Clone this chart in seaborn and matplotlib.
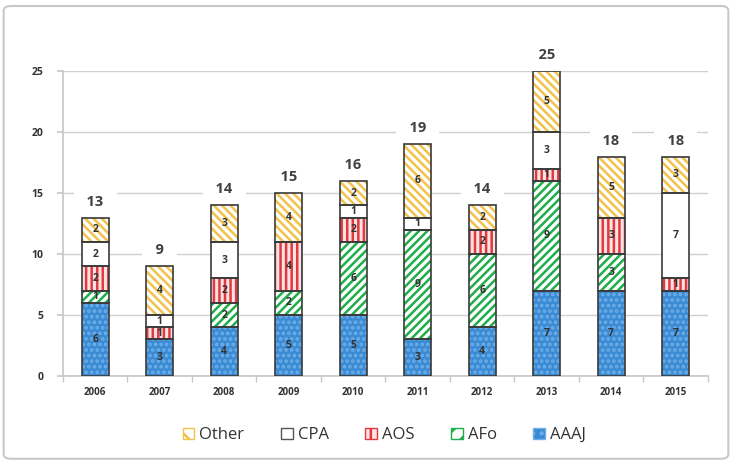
import numpy as np
import seaborn as sns
import matplotlib.pyplot as plt
from matplotlib.patches import Patch, FancyBboxPatch

# 数据
years = ['2006', '2007', '2008', '2009', '2010', '2011', '2012', '2013', '2014', '2015']
aaaj = [6, 3, 4, 5, 5, 3, 4, 7, 7, 7]
afo = [1, 0, 2, 2, 6, 9, 6, 9, 3, 0]
aos = [2, 1, 2, 4, 2, 0, 2, 1, 3, 1]
cpa = [2, 1, 3, 0, 1, 1, 0, 3, 0, 7]
other = [2, 4, 3, 4, 2, 6, 2, 5, 5, 3]

names = ['AAAJ', 'AFo', 'AOS', 'CPA', 'Other']
series = [aaaj, afo, aos, cpa, other]
# 底色, 纹理颜色, 纹理
styles = {
    'AAAJ': ('#3a8ad4', '#6fafe8', '...'),
    'AFo': ('white', '#1fae4a', '////'),
    'AOS': ('#fbe3e3', '#e0393e', '|||'),
    'CPA': ('white', 'white', ''),
    'Other': ('white', '#f2c24a', '\\\\\\\\'),
}

sns.set_theme(style='white')
plt.rcParams['font.family'] = ['Open Sans', 'DejaVu Sans']
plt.rcParams['hatch.linewidth'] = 1.8

fig = plt.figure(figsize=(7.32, 4.62), dpi=100)
ax = fig.add_axes([0.086, 0.186, 0.881, 0.660])

bottom = np.zeros(len(years))
for name, vals in zip(names, series):
    face, hcol, hatch = styles[name]
    vals = np.array(vals, dtype=float)
    # 纹理层
    sns.barplot(x=years, y=vals, bottom=bottom, color=face, hatch=hatch,
                edgecolor=hcol, linewidth=0, width=0.42, saturation=1,
                zorder=3, ax=ax)
    # 外框层
    sns.barplot(x=years, y=vals, bottom=bottom, color='#3a3a3a', fill=False,
                linewidth=1.2, width=0.42, zorder=4, ax=ax)
    for i, v in enumerate(vals):
        if v > 0:
            ax.text(i, bottom[i] + v / 2, str(int(v)), ha='center', va='center',
                    fontsize=7.5, fontweight='bold', color='#333333', zorder=5)
    bottom = bottom + vals

# 总数标签
for i, t in enumerate(bottom):
    ax.text(i, t + 1.3, '  %d  ' % t, ha='center', va='center', fontsize=10.5,
            fontweight='bold', color='#404040', zorder=2.5,
            bbox=dict(facecolor='white', edgecolor='none', pad=4))

ax.set_ylim(0, 25)
ax.set_xlim(-0.5, 9.5)
ax.set_yticks([0, 5, 10, 15, 20, 25])
ax.yaxis.grid(True, color='#d0d0d0', linewidth=1, zorder=0)
ax.set_axisbelow(True)
for s in ['top', 'right']:
    ax.spines[s].set_visible(False)
ax.spines['left'].set_color('#c8c8c8')
ax.spines['bottom'].set_color('#c8c8c8')
ax.tick_params(axis='y', labelsize=7.5, colors='#333333', length=4, color='#c8c8c8',
               left=True, pad=10)
ax.tick_params(axis='x', labelsize=7, colors='#333333', length=0, pad=8)
ax.set_xticks(np.arange(-0.5, 10, 1), minor=True)
ax.tick_params(axis='x', which='minor', length=4, color='#c8c8c8', bottom=True)
for lab in ax.get_xticklabels() + ax.get_yticklabels():
    lab.set_fontweight('bold')
ax.set_xlabel('')
ax.set_ylabel('')

# 图例
handles = []
for name in ['Other', 'CPA', 'AOS', 'AFo', 'AAAJ']:
    face, hcol, hatch = styles[name]
    handles.append(Patch(facecolor=face, edgecolor=hcol if name != 'CPA' else '#555555',
                         hatch=hatch[:2], linewidth=1, label=name))
fig.legend(handles=handles, loc='center', bbox_to_anchor=(0.525, 0.058), ncol=5,
           frameon=False, fontsize=12, handlelength=0.7, handleheight=0.7,
           handletextpad=0.3, columnspacing=2.2, labelcolor='#333333')

# 外边框
fig.patches.append(FancyBboxPatch((0.005, 0.007), 0.99, 0.98, boxstyle='round,pad=0,rounding_size=0.01',
                                  transform=fig.transFigure, facecolor='none',
                                  edgecolor='#c8c8c8', linewidth=1.5))

fig.savefig('out.png', dpi=100)
